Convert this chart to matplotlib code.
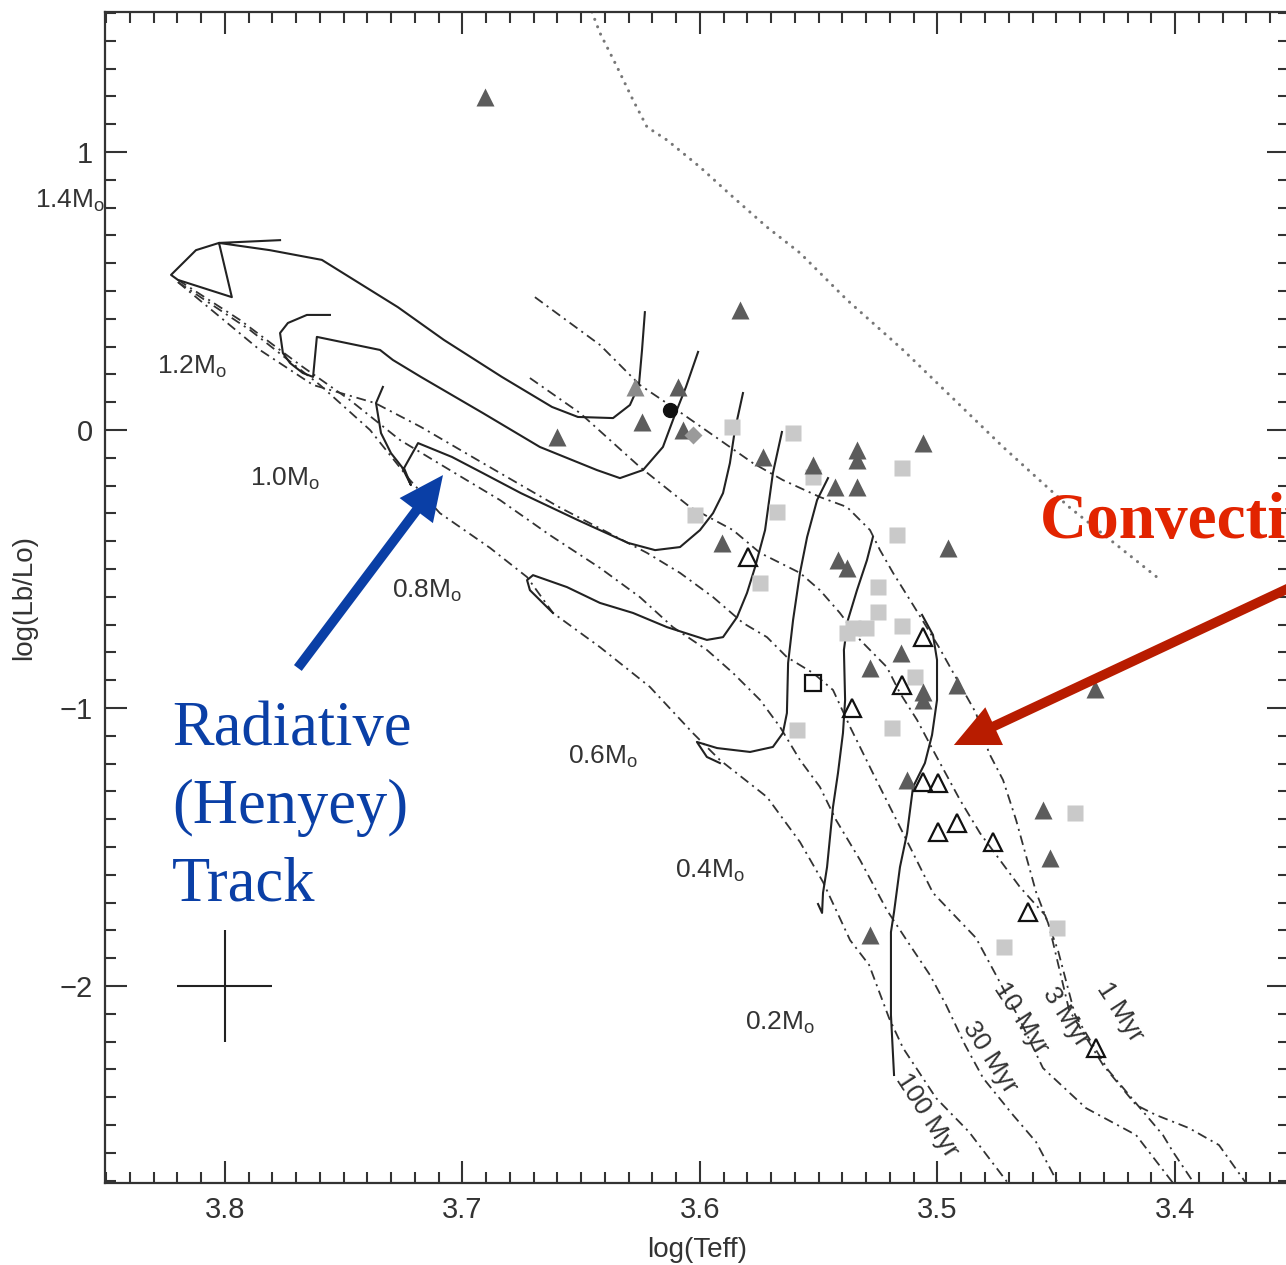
import numpy as np
import matplotlib.pyplot as plt
from matplotlib.ticker import MultipleLocator

plt.rcParams['font.family'] = ['Liberation Sans', 'DejaVu Sans']
plt.rcParams['mathtext.fontset'] = 'custom'
plt.rcParams['mathtext.rm'] = 'Liberation Sans'
plt.rcParams['lines.scale_dashes'] = False

# evolutionary tracks (log Teff, log L)
trk14_t = [3.6232, 3.6244, 3.6257, 3.6295, 3.6366, 3.6514, 3.6623, 3.6834, 3.7078, 3.7272,
           3.7592, 3.7811, 3.8025, 3.7971, 3.8198, 3.8227, 3.8122, 3.8025, 3.7768]
trk14_l = [0.424, 0.288, 0.162, 0.090, 0.043, 0.047, 0.083, 0.191, 0.324, 0.442,
           0.612, 0.647, 0.673, 0.478, 0.540, 0.558, 0.647, 0.673, 0.683]
trk12_t = [3.6008, 3.6059, 3.6109, 3.6156, 3.6240, 3.6337, 3.6434, 3.6674, 3.6914, 3.7175,
           3.7293, 3.7347, 3.7613, 3.7629, 3.7672, 3.7726, 3.7756, 3.7768, 3.7735, 3.7655, 3.7558]
trk12_l = [0.281, 0.155, 0.047, -0.061, -0.144, -0.173, -0.144, -0.061, 0.061, 0.191,
           0.252, 0.288, 0.335, 0.191, 0.205, 0.241, 0.277, 0.349, 0.385, 0.414, 0.414]
trk10_t = [3.5819, 3.5853, 3.5874, 3.5903, 3.5945, 3.6000, 3.6084, 3.6189, 3.6303, 3.6514,
           3.6754, 3.6914, 3.7044, 3.7187, 3.7246, 3.7217, 3.7255, 3.7301, 3.7343, 3.7364, 3.7335]
trk10_l = [0.133, 0.0, -0.119, -0.227, -0.299, -0.360, -0.421, -0.432, -0.406, -0.324,
           -0.227, -0.155, -0.097, -0.047, -0.137, -0.198, -0.133, -0.083, -0.011, 0.097, 0.155]
trk08_t = [3.5655, 3.5693, 3.5726, 3.5768, 3.5802, 3.5844, 3.5903, 3.5971, 3.6139, 3.6282,
           3.6421, 3.6560, 3.6703, 3.6728, 3.6716, 3.6644, 3.6619]
trk08_l = [-0.007, -0.155, -0.360, -0.493, -0.586, -0.673, -0.745, -0.755, -0.709, -0.658,
           -0.622, -0.565, -0.522, -0.540, -0.576, -0.637, -0.658]
trk06_t = [3.5461, 3.5507, 3.5549, 3.5579, 3.5608, 3.5629, 3.5634, 3.5651, 3.5693, 3.5789,
           3.5928, 3.6013, 3.5971, 3.5916]
trk06_l = [-0.173, -0.252, -0.385, -0.514, -0.683, -0.838, -1.018, -1.090, -1.140, -1.158,
           -1.144, -1.122, -1.176, -1.198]
trk04_t = [3.5272, 3.5297, 3.5339, 3.5377, 3.5394, 3.5389, 3.5398, 3.5419, 3.5440, 3.5465,
           3.5482, 3.5486, 3.5503]
trk04_l = [-0.385, -0.468, -0.576, -0.683, -0.791, -0.971, -1.090, -1.234, -1.356, -1.572,
           -1.665, -1.737, -1.705]
trk02_t = [3.5065, 3.5019, 3.5002, 3.5002, 3.5023, 3.5053, 3.5103, 3.5128, 3.5158, 3.5183,
           3.5196, 3.5196, 3.5183]
trk02_l = [-0.665, -0.737, -0.827, -0.971, -1.097, -1.198, -1.284, -1.450, -1.572, -1.734,
           -1.806, -2.104, -2.320]

# isochrones
iso1_t = [3.6695, 3.6421, 3.6253, 3.6097, 3.5916, 3.5777, 3.5651, 3.5495, 3.5381, 3.5284,
          3.5242, 3.5187, 3.5103, 3.4994, 3.4893, 3.4838, 3.4783, 3.4724, 3.4669, 3.4585,
          3.4531, 3.4446, 3.4303, 3.4164, 3.4080, 3.3941, 3.3815, 3.3701]
iso1_l = [0.478, 0.306, 0.162, 0.072, -0.036, -0.119, -0.180, -0.241, -0.277, -0.360,
          -0.432, -0.514, -0.629, -0.781, -0.935, -1.018, -1.162, -1.259, -1.403, -1.662,
          -1.781, -2.086, -2.284, -2.428, -2.464, -2.511, -2.572, -2.709]
iso3_t = [3.6716, 3.6505, 3.6253, 3.6042, 3.5861, 3.5747, 3.5579, 3.5495, 3.5411, 3.5326,
          3.5213, 3.5158, 3.5086, 3.5019, 3.4905, 3.4821, 3.4737, 3.4653, 3.4547, 3.4493,
          3.4421, 3.4282, 3.4147, 3.4051, 3.4008, 3.3920]
iso3_l = [0.187, 0.061, -0.133, -0.277, -0.360, -0.442, -0.514, -0.576, -0.658, -0.755,
          -0.853, -0.946, -1.043, -1.151, -1.331, -1.450, -1.547, -1.644, -1.745, -1.871,
          -2.104, -2.302, -2.439, -2.536, -2.597, -2.709]
iso10_t = [3.8198, 3.7853, 3.7629, 3.7368, 3.7175, 3.6914, 3.6594, 3.6223, 3.6084, 3.5945,
           3.5819, 3.5718, 3.5634, 3.5524, 3.5440, 3.5368, 3.5272, 3.5158, 3.5019, 3.4838,
           3.4754, 3.4653, 3.4556, 3.4375, 3.4164, 3.4008]
iso10_l = [0.532, 0.288, 0.162, 0.097, 0.011, -0.119, -0.277, -0.442, -0.514, -0.601,
           -0.694, -0.745, -0.817, -0.874, -0.935, -1.068, -1.234, -1.428, -1.665, -1.827,
           -1.960, -2.122, -2.295, -2.439, -2.536, -2.709]
iso30_t = [3.8198, 3.7937, 3.7684, 3.7474, 3.7263, 3.7053, 3.6842, 3.6632, 3.6421, 3.6253,
           3.6114, 3.5971, 3.5861, 3.5747, 3.5663, 3.5579, 3.5495, 3.5427, 3.5326, 3.5213,
           3.5116, 3.5032, 3.4964, 3.4884, 3.4808, 3.4682, 3.4585, 3.4493]
iso30_l = [0.540, 0.396, 0.234, 0.108, -0.036, -0.144, -0.252, -0.378, -0.496, -0.601,
           -0.709, -0.791, -0.874, -0.971, -1.068, -1.187, -1.284, -1.403, -1.547, -1.727,
           -1.853, -1.960, -2.068, -2.212, -2.331, -2.464, -2.561, -2.709]
iso100_t = [3.8198, 3.7895, 3.7600, 3.7389, 3.7221, 3.7095, 3.6884, 3.6728, 3.6619, 3.6421,
            3.6211, 3.6030, 3.5916, 3.5718, 3.5579, 3.5482, 3.5423, 3.5368, 3.5288, 3.5204,
            3.5145, 3.5006, 3.4867, 3.4703]
iso100_l = [0.532, 0.360, 0.162, 0.0, -0.180, -0.299, -0.424, -0.529, -0.658, -0.781,
            -0.924, -1.090, -1.187, -1.320, -1.482, -1.626, -1.734, -1.835, -1.924, -2.115,
            -2.223, -2.403, -2.525, -2.709]

# dotted line, upper right
dot_t = [3.6455, 3.6421, 3.6349, 3.6282, 3.6223, 3.6139, 3.6000, 3.5861, 3.5718, 3.5579,
         3.5381, 3.5145, 3.4724, 3.4446, 3.4072]
dot_l = [1.504, 1.428, 1.306, 1.187, 1.090, 1.043, 0.946, 0.838, 0.730, 0.637,
         0.468, 0.288, -0.061, -0.277, -0.532]

# stars
tri_t = [3.6905, 3.5832, 3.6093, 3.6244, 3.6602, 3.6072, 3.5735, 3.5524, 3.5432, 3.5339,
         3.5339, 3.5339, 3.5061, 3.4956, 3.5907, 3.5419, 3.5381, 3.5154, 3.5284, 3.5061,
         3.5061, 3.4918, 3.5128, 3.4556, 3.4526, 3.5284, 3.4337]
tri_l = [1.198, 0.432, 0.155, 0.029, -0.025, 0.0, -0.097, -0.126, -0.205, -0.072,
         -0.108, -0.205, -0.047, -0.424, -0.406, -0.468, -0.496, -0.802, -0.856, -0.942,
         -0.971, -0.917, -1.259, -1.367, -1.540, -1.817, -0.932]
sq_t = [3.5865, 3.5608, 3.5524, 3.5149, 3.6021, 3.5676, 3.5171, 3.5747, 3.5251, 3.5251,
        3.5356, 3.5301, 3.5381, 3.5149, 3.5095, 3.5192, 3.5592, 3.4421, 3.4497, 3.4720]
sq_l = [0.011, -0.011, -0.169, -0.137, -0.306, -0.295, -0.378, -0.550, -0.565, -0.655,
        -0.712, -0.712, -0.730, -0.705, -0.888, -1.072, -1.079, -1.378, -1.791, -1.860]
otri_t = [3.5798, 3.5061, 3.5149, 3.5360, 3.5061, 3.4998, 3.4998, 3.4918, 3.4766, 3.4619, 3.4333]
otri_l = [-0.457, -0.745, -0.917, -1.000, -1.266, -1.270, -1.446, -1.414, -1.482, -1.734, -2.223]
osq_t, osq_l = [3.5524], [-0.910]
dot_star_t, dot_star_l = [3.6126], [0.072]
dia_t, dia_l = [3.6030], [-0.018]
pale_tri_t, pale_tri_l = [3.6274], [0.155]

mass_names = ['1.4', '1.2', '1.0', '0.8', '0.6', '0.4', '0.2']
mass_lab_t = [3.880, 3.8286, 3.7895, 3.7297, 3.6556, 3.6105, 3.5811]
mass_lab_l = [0.802, 0.205, -0.198, -0.601, -1.198, -1.608, -2.158]

age_names = ['100 Myr', '30 Myr', '10 Myr', '3 Myr', '1 Myr']
age_lab_t = [3.5045, 3.4779, 3.4649, 3.4460, 3.4232]
age_lab_l = [-2.464, -2.255, -2.115, -2.110, -2.094]

fig = plt.figure(figsize=(12.86, 12.65), dpi=100)
ax = fig.add_axes([0.08165, 0.0648, 0.9207, 0.9257])

dashdot = (0, (7, 3.5, 1.5, 3.5))
for t, l in [(iso1_t, iso1_l), (iso3_t, iso3_l), (iso10_t, iso10_l),
             (iso30_t, iso30_l), (iso100_t, iso100_l)]:
    ax.plot(t, l, color='#333333', lw=1.3, linestyle=dashdot)

for t, l in [(trk14_t, trk14_l), (trk12_t, trk12_l), (trk10_t, trk10_l), (trk08_t, trk08_l),
             (trk06_t, trk06_l), (trk04_t, trk04_l), (trk02_t, trk02_l)]:
    ax.plot(t, l, color='#222222', lw=1.5)

ax.plot(dot_t, dot_l, color='#777777', lw=2.2, linestyle=(0, (0.1, 5.6)),
        dash_capstyle='round')

ax.plot(sq_t, sq_l, 's', ms=11.5, color='#c9c9c9', mec='none', zorder=3)
ax.plot(tri_t, tri_l, '^', ms=12.5, color='#5c5c5c', mec='none', zorder=3)
ax.plot(pale_tri_t, pale_tri_l, '^', ms=12.5, color='#8a8a8a', mec='none', zorder=3)
ax.plot(dia_t, dia_l, 'D', ms=9, color='#9a9a9a', mec='none', zorder=3)
ax.plot(otri_t, otri_l, '^', ms=12.5, mfc='none', mec='#111111', mew=1.6, zorder=4)
ax.plot(osq_t, osq_l, 's', ms=11, mfc='none', mec='#111111', mew=1.6, zorder=4)
ax.plot(dot_star_t, dot_star_l, 'o', ms=10, color='#111111', zorder=4)

ax.errorbar([3.8], [-2.0], xerr=[0.02], yerr=[0.2], fmt='none', ecolor='#222222',
            elinewidth=1.5, capsize=0)

for name, t, l in zip(mass_names, mass_lab_t, mass_lab_l):
    ax.text(t, l, name + r'M$_{\rm o}$', fontsize=19, color='#333333',
            ha='left', va='baseline', clip_on=False)
for name, t, l in zip(age_names, age_lab_t, age_lab_l):
    ax.text(t, l, name, fontsize=19, color='#333333', rotation=-57,
            rotation_mode='anchor', ha='center', va='center')

ax.set_xlim(3.8505, 3.352)
ax.set_ylim(-2.7086, 1.5036)
ax.set_xticks([3.8, 3.7, 3.6, 3.5, 3.4])
ax.set_xticklabels(['3.8', '3.7', '3.6', '3.5', '3.4'])
ax.yaxis.set_major_locator(MultipleLocator(1))
ax.xaxis.set_minor_locator(MultipleLocator(0.01))
ax.yaxis.set_minor_locator(MultipleLocator(0.1))
ax.tick_params(which='both', direction='in', top=True, right=True, width=1.5,
               color='#333333', labelsize=21, labelcolor='#333333')
ax.tick_params(which='major', length=16, pad=9)
ax.tick_params(which='minor', length=8)
for s in ax.spines.values():
    s.set_linewidth(1.6)
    s.set_color('#333333')
ax.set_xlabel('log(Teff)', fontsize=20, color='#333333', labelpad=10)
ax.set_ylabel('log(Lb/Lo)', fontsize=20, color='#333333', labelpad=16)

# annotations
blue = '#0a3fa6'
serif = ['Liberation Serif', 'DejaVu Serif']
for txt, l in zip(['Radiative', '(Henyey)', 'Track'], [-1.133, -1.414, -1.691]):
    ax.text(3.8223, l, txt, fontsize=45, color=blue, family=serif,
            ha='left', va='baseline')
ax.annotate('', xy=(3.7082, -0.162), xytext=(3.7693, -0.856),
            arrowprops=dict(arrowstyle='simple,head_length=32,head_width=30,tail_width=7',
                            mutation_scale=1, color=blue, lw=0,
                            shrinkA=0, shrinkB=0))

# the reference shows this word running off the right edge
ax.text(3.4569, -0.388, 'Convective', fontsize=47, color='#e22400', family=serif,
        fontweight='bold', ha='left', va='baseline', clip_on=False)
ax.annotate('', xy=(3.4931, -1.133), xytext=(3.3474, -0.550),
            arrowprops=dict(arrowstyle='simple,head_length=32,head_width=30,tail_width=7',
                            mutation_scale=1, color='#b81c00', lw=0,
                            shrinkA=0, shrinkB=0),
            annotation_clip=False)

fig.savefig('out.png', dpi=100)
